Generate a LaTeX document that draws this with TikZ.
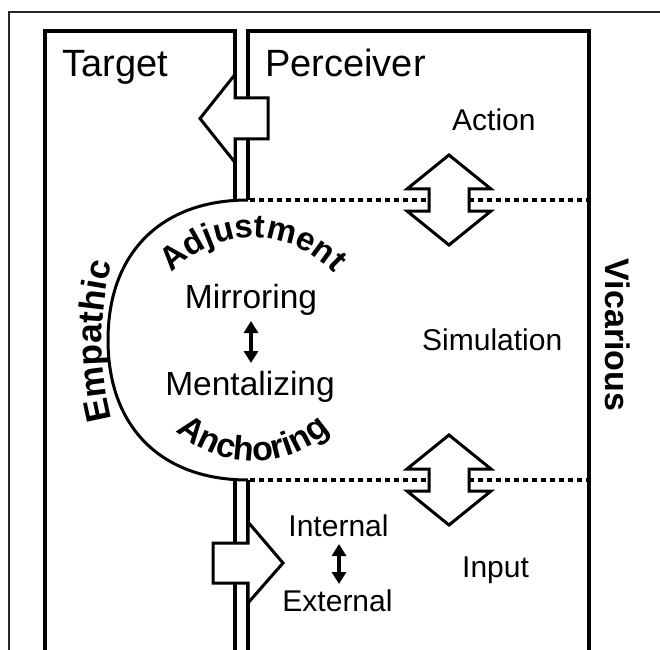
\documentclass[tikz,border=0pt]{standalone}
\usepackage{fontspec}
\setmainfont{Liberation Sans}
\usetikzlibrary{arrows.meta,decorations.text}
\tikzset{
  boxline/.style={line width=4pt, line join=miter},
  blockarrow/.style={line width=3pt, fill=white, line join=miter},
  dotline/.style={line width=4.6pt, dash pattern=on 5pt off 4pt},
  curveline/.style={line width=3pt},
  smallarrow/.style={line width=3.5pt, {Triangle[length=12pt,width=14pt]}-{Triangle[length=12pt,width=14pt]}},
  lbl/.style={inner sep=0pt, font=\fontsize{30}{36}\selectfont},
  biglbl/.style={inner sep=0pt, font=\fontsize{38}{44}\selectfont},
  boldlbl/.style={inner sep=0pt, font=\bfseries\fontsize{34}{40}\selectfont}
}
\begin{document}
\begin{tikzpicture}[x=1pt,y=1pt]
\useasboundingbox (0,0) rectangle (660,649);
\fill[white] (0,0) rectangle (660,649);
% outer frame (partly visible)
\draw[line width=1.3pt, color=black!85] (9,-5) -- (9,637) -- (665,637);
% Target box
\draw[boxline] (45,-5) -- (45,617.5) -- (235,617.5) -- (235,449);
\draw[boxline] (235,169) -- (235,-5);
% Perceiver box
\draw[boxline] (248,449) -- (248,617.5) -- (589,617.5) -- (589,-5);
\draw[boxline] (248,169) -- (248,-5);
% semicircle
\draw[curveline] (248,449) .. controls (161,449) and (108,396) .. (108,309)
  .. controls (108,222) and (161,169) .. (248,169);
% dotted lines
\coordinate (d1a) at (250,449); \coordinate (d1b) at (429,449);
\coordinate (d1c) at (469,449); \coordinate (d1d) at (589,449);
\coordinate (d2a) at (250,169); \coordinate (d2b) at (429,169);
\coordinate (d2c) at (469,169); \coordinate (d2d) at (589,169);
\draw[dotline] (d1a) -- (d1b);
\draw[dotline] (d1c) -- (d1d);
\draw[dotline] (d2a) -- (d2b);
\draw[dotline] (d2c) -- (d2d);
% vertical double block arrows
\foreach \cy in {449,169}{
  \draw[blockarrow] (449,\cy+45) -- (491,\cy+11) -- (469,\cy+11) -- (469,\cy-11) -- (491,\cy-11)
    -- (449,\cy-45) -- (407,\cy-11) -- (429,\cy-11) -- (429,\cy+11) -- (407,\cy+11) -- cycle;
}
% left-pointing block arrow (top)
\draw[blockarrow] (200,530.5) -- (235,574.5) -- (235,551) -- (268,551) -- (268,510) -- (235,510) -- (235,486.5) -- cycle;
% right-pointing block arrow (bottom)
\draw[blockarrow] (283,86) -- (248,127) -- (248,106) -- (213,106) -- (213,66) -- (248,66) -- (248,46) -- cycle;
% labels
\node[biglbl, anchor=base west] (target) at (62,572) {Target};
\node[biglbl, anchor=base west] (perceiver) at (265,572) {Perceiver};
\node[lbl, anchor=base west] (action) at (452,518) {Action};
\node[lbl, anchor=base west] (simulation) at (422,299) {Simulation};
\node[lbl, anchor=base west] (input) at (462,72) {Input};
\node[inner sep=0pt, font=\fontsize{33.5}{40}\selectfont, anchor=base] (mirroring) at (251,341) {Mirroring};
\node[inner sep=0pt, font=\fontsize{33.5}{40}\selectfont, anchor=base] (mentalizing) at (250,254) {Mentalizing};
\node[lbl, anchor=base] (internal) at (338.5,113) {Internal};
\node[lbl, anchor=base] (external) at (337.5,38) {External};
\node[boldlbl, rotate=-90] (vicarious) at (618,314) {Vicarious};
% small double arrows
\coordinate (m1) at (251,328); \coordinate (m2) at (251,286);
\draw[smallarrow] (m1) -- (m2);
\coordinate (i1) at (339,105); \coordinate (i2) at (339,65);
\draw[smallarrow] (i1) -- (i2);
% curved texts
\path[decorate, decoration={text along path, text align=center,
  text={|\bfseries\fontsize{33}{38}\selectfont|Adjustment}}]
  (253,301) ++(150:110) arc (150:30:110);
\path[decorate, decoration={text along path, text align=center,
  text={|\bfseries\fontsize{34}{38}\selectfont|Anchoring}}]
  (253,301) ++(210:113) arc (210:330:113);
\path[decorate, decoration={text along path, text align=center,
  text={|\bfseries\fontsize{35}{40}\selectfont|Empathic}}]
  (422,308) ++(198:320) arc (198:162:320);
\end{tikzpicture}
\end{document}
